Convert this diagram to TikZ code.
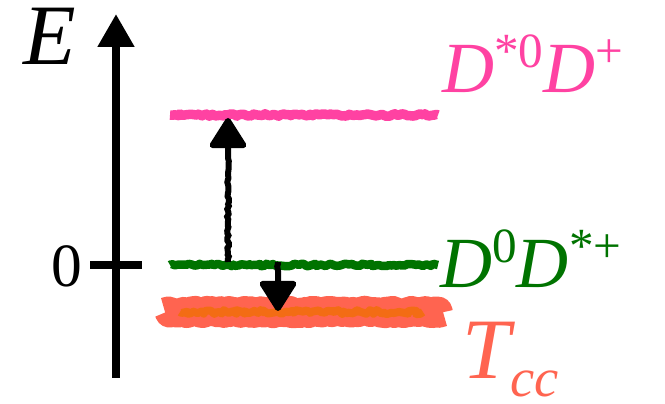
\documentclass[tikz,border=0pt]{standalone}
\usepackage{fontspec}
\setmainfont{Liberation Serif}
\usepackage{tikz}
\usetikzlibrary{arrows.meta,decorations.pathmorphing}
\definecolor{pinkc}{RGB}{255,66,162}
\definecolor{greenc}{RGB}{0,115,0}
\definecolor{salmonc}{RGB}{255,100,80}
\definecolor{orangec}{RGB}{240,112,0}
\newcommand{\upidx}[1]{\raisebox{0.36em}{\fontsize{28}{28}\selectfont #1}}

\begin{document}
\begin{tikzpicture}[x=0.02cm, y=-0.02cm]
\tikzstyle{crayon}=[decorate, decoration={random steps, segment length=1.5pt, amplitude=0.7pt}, line join=round]
\tikzstyle{lbl}=[inner sep=0pt, anchor=base west]
\tikzstyle{jump}=[line width=0.12cm, -{Triangle[length=0.66cm, width=0.8cm, round]}, decorate, decoration={random steps, segment length=1.5pt, amplitude=0.5pt, post length=0.8cm}]
\useasboundingbox (0,0) rectangle (665,404);
% energy axis
\coordinate (ax0) at (116,378);
\coordinate (ax1) at (116,14);
\draw[line width=0.16cm, -{Triangle[length=0.66cm, width=0.7cm]}] (ax0) -- (ax1);
\draw[line width=0.16cm] (90,265) -- (142,265);
\node[inner sep=0pt, anchor=base, font=\fontsize{49}{49}\selectfont] (elab) at (50,65) {\textit{E}};
\node[inner sep=0pt, anchor=base, font=\fontsize{35}{35}\selectfont] (zero) at (67,287) {0};
% levels
\coordinate (pk0) at (170,115); \coordinate (pk1) at (438,115);
\coordinate (gr0) at (170,265); \coordinate (gr1) at (438,265);
\coordinate (tc0) at (165,312); \coordinate (tc1) at (443,312);
\draw[crayon, pinkc, line width=0.19cm] (pk0) -- (pk1);
\draw[crayon, greenc, line width=0.17cm] (gr0) -- (gr1);
\draw[crayon, salmonc, line width=0.58cm, decoration={amplitude=1pt}] (tc0) -- (tc1);
\draw[crayon, orangec, opacity=0.75, line width=0.16cm, decoration={amplitude=1.2pt}] ([xshift=0.3cm]tc0) -- ([xshift=-0.4cm]tc1);
% transitions
\coordinate (up0) at (228,262); \coordinate (up1) at (228,118);
\coordinate (dn0) at (278,262); \coordinate (dn1) at (278,311);
\draw[jump] (up0) -- (up1);
\draw[jump] (dn0) -- (dn1);
% labels
\node[lbl, text=pinkc, font=\fontsize{41}{41}\selectfont] (lpk) at (442,93) {\textit{D}\upidx{*0}\textit{D}\upidx{+}};
\node[lbl, text=greenc, font=\fontsize{41}{41}\selectfont] (lgr) at (440,288) {\textit{D}\upidx{0}\textit{D}\upidx{*+}};
\node[lbl, text=salmonc, font=\fontsize{49}{49}\selectfont] (ltc) at (462,379) {\textit{T}\kern-3pt\raisebox{-10pt}{\fontsize{31}{31}\selectfont\textit{cc}}};
\end{tikzpicture}
\end{document}
